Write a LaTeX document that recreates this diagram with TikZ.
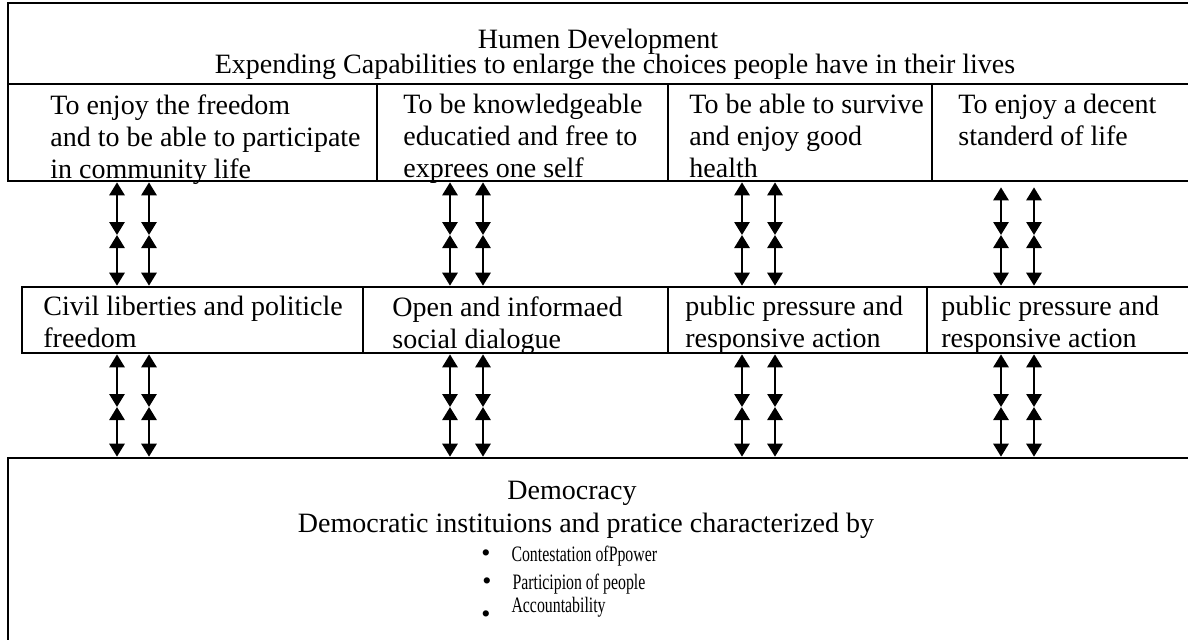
\documentclass[tikz,border=0pt]{standalone}
\usepackage{graphicx}
\usepackage{fontspec}
\setmainfont{Liberation Serif}
\usetikzlibrary{arrows.meta, fit}
\tikzset{
    cell/.style={rectangle, draw, line width=1.3pt, inner sep=0pt},
    celltext/.style={anchor=north west, align=left, inner sep=0pt, font=\fontsize{14}{16}\selectfont},
    head/.style={inner sep=0pt, anchor=base, font=\fontsize{14}{14}\selectfont},
    item/.style={anchor=base west, inner sep=0pt, font=\fontsize{11}{11}\selectfont},
    twoway/.style={line width=1.4pt, {Triangle[length=6.5pt, width=7.5pt]}-{Triangle[length=6.5pt, width=7.5pt]}}
}
\newcommand{\narrow}[1]{\scalebox{0.72}[1]{#1}}
\newcommand{\itemdot}{{\fontsize{13}{13}\selectfont\textbullet}}

\begin{document}
\begin{tikzpicture}[x=0.5pt, y=-0.5pt]
    \useasboundingbox (0,0) rectangle (1188,639);

    % Human development table
    \node (ttl) [cell, fit={(8,3) (1192,84)}] {};
    \node (h1) [cell, fit={(8,84) (377,181)}] {};
    \node (h2) [cell, fit={(377,84) (668,181)}] {};
    \node (h3) [cell, fit={(668,84) (932,181)}] {};
    \node (h4) [cell, fit={(932,84) (1192,181)}] {};

    \node (ttl1) [head] at (598,48) {Humen Development};
    \node (ttl2) [head] at (615,73) {Expending Capabilities to enlarge the choices people have in their lives};

    \node (h1t) [celltext] at (50,94) {To enjoy the freedom\\and to be able to participate\\in community life};
    \node (h2t) [celltext] at (403,94) {To be knowledgeable\\educatied and free to\\exprees one self};
    \node (h3t) [celltext] at (689,94) {To be able to survive\\and enjoy good\\health};
    \node (h4t) [celltext] at (958,94) {To enjoy a decent\\standerd of life};

    % Middle row
    \node (m1) [cell, fit={(22,287) (363,353)}] {};
    \node (m2) [cell, fit={(363,287) (668,353)}] {};
    \node (m3) [cell, fit={(668,287) (927,353)}] {};
    \node (m4) [cell, fit={(927,287) (1192,353)}] {};

    \node (m1t) [celltext] at (43,296) {Civil liberties and politicle\\freedom};
    \node (m2t) [celltext] at (392,296) {Open and informaed\\social dialogue};
    \node (m3t) [celltext] at (685,296) {public pressure and\\responsive action};
    \node (m4t) [celltext] at (941,296) {public pressure and\\responsive action};

    % Democracy
    \node (dem) [cell, fit={(8,458) (1192,660)}] {};
    \node (demt) [head] at (572,499) {Democracy};
    \node (demd) [head] at (586,532) {Democratic instituions and pratice characterized by};
    \node (dem1) [item] at (481,561) {\itemdot\hspace{10.5pt}\narrow{Contestation ofPpower}};
    \node (dem2) [item] at (482,589) {\itemdot\hspace{10.5pt}\narrow{Participion of people}};
    \node (dem3) [item] at (481,612) {\raisebox{-5pt}{\itemdot}\hspace{10.5pt}\narrow{Accountability}};

    % two-way links
    \foreach \i/\xa/\xb/\gap in {1/117/149/0, 2/450/483/0, 3/742/775/0, 4/1001/1034/2.5} {
        \foreach \x in {\xa, \xb} {
            \coordinate (up) at (\x,235);
            \coordinate (lo) at (\x,407);
            \draw [twoway, shorten <=\gap pt] (h\i.south -| up) -- (up);
            \draw [twoway] (up) -- (m\i.north -| up);
            \draw [twoway] (m\i.south -| lo) -- (lo);
            \draw [twoway] (lo) -- (dem.north -| lo);
        }
    }

\end{tikzpicture}
\end{document}
